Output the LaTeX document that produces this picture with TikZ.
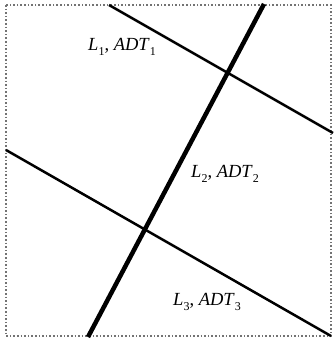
\documentclass[tikz,border=0pt]{standalone}
\usepackage{fontspec}
\setmainfont{Liberation Serif}
\tikzset{
  frame/.style={draw=gray!90!black, line width=1.6pt, dotted},
  thinline/.style={draw=black, line width=2.5pt},
  thickline/.style={draw=black, line width=4.5pt},
  lbl/.style={font=\fontsize{18.5}{20}\selectfont, inner sep=0pt}
}
\newcommand{\sbs}[1]{\raisebox{-0.3em}{\fontsize{12}{12}\selectfont #1}}
\newcommand{\lab}[1]{\textit{L}\sbs{#1}, \textit{ADT}\sbs{#1}}
\begin{document}
\begin{tikzpicture}[x=1pt,y=-1pt]
\useasboundingbox (0,0) rectangle (333,339);
\draw[frame] (6,5) rectangle (331,336);
\coordinate (a1) at (109,5);
\coordinate (a2) at (333,133);
\coordinate (b1) at (264,4);
\coordinate (b2) at (88,337);
\coordinate (c1) at (6,150);
\coordinate (c2) at (331,336);
\draw[thinline] (a1) -- (a2);
\draw[thinline] (c1) -- (c2);
\draw[thickline] (b1) -- (b2);
\node[lbl] (l1) at (122,47) {\lab{1}};
\node[lbl] (l2) at (225,174) {\lab{2}};
\node[lbl] (l3) at (207,302) {\lab{3}};
\end{tikzpicture}
\end{document}
